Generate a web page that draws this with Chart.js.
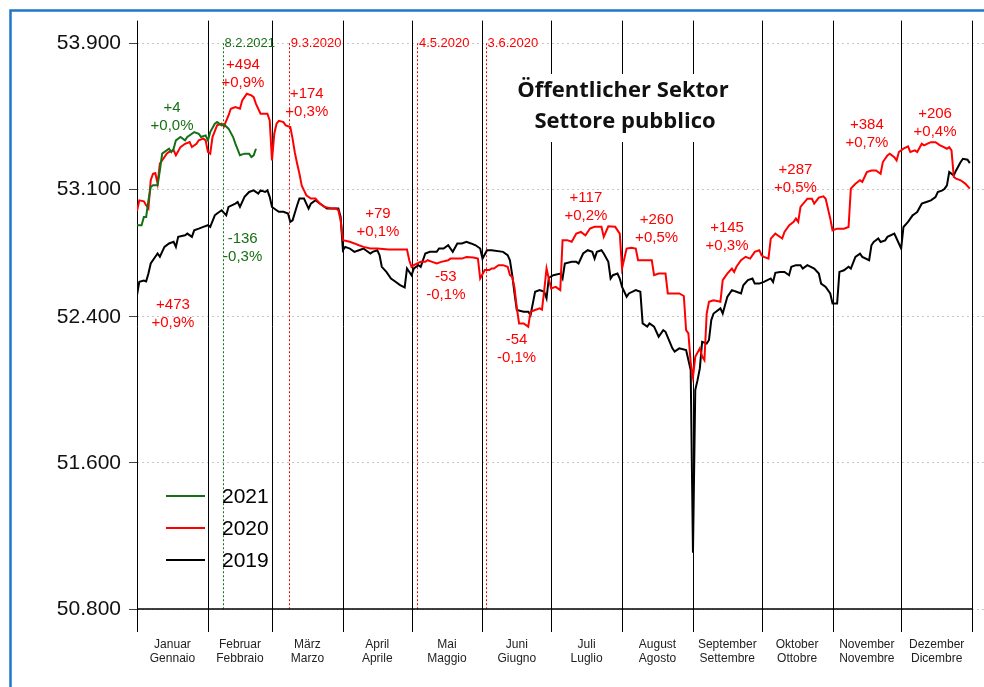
<!DOCTYPE html>
<html>
<head>
<meta charset="utf-8">
<title>Öffentlicher Sektor / Settore pubblico</title>
<script src="https://cdn.jsdelivr.net/npm/chart.js@4.4.1/dist/chart.umd.min.js"></script>
<style>
  html, body { margin: 0; padding: 0; background: #fff; }
  #wrap { width: 984px; height: 687px; }
</style>
</head>
<body>
<div id="wrap"><canvas id="myChart" width="984" height="687"></canvas></div>
<script>
// months (day of year where each month starts, 365-day axis)
const monthStart = [0, 31, 59, 90, 120, 151, 181, 212, 243, 273, 304, 334, 365];
const monthsDe = ['Januar', 'Februar', 'März', 'April', 'Mai', 'Juni', 'Juli', 'August', 'September', 'Oktober', 'November', 'Dezember'];
const monthsIt = ['Gennaio', 'Febbraio', 'Marzo', 'Aprile', 'Maggio', 'Giugno', 'Luglio', 'Agosto', 'Settembre', 'Ottobre', 'Novembre', 'Dicembre'];
const yTicks = [50800, 51600, 52400, 53100, 53900];

// 2019
const days2019 = [
  0, 1, 3, 4, 5, 6, 8, 9, 10, 12,
  14, 16, 17, 18, 21, 22, 24, 25, 27, 29,
  31, 32, 34, 35, 37, 39, 40, 43, 44, 45,
  47, 49, 51, 53, 54, 56, 57, 58, 59, 61,
  62, 64, 66, 67, 68, 70, 71, 73, 74, 75,
  76, 78, 79, 81, 83, 86, 88, 89, 90, 91,
  93, 95, 97, 99, 100, 102, 103, 105, 106, 107,
  109, 111, 113, 115, 117, 118, 120, 121, 123, 124,
  126, 128, 131, 132, 134, 136, 138, 140, 142, 144,
  146, 148, 150, 151, 153, 155, 160, 162, 163, 164,
  165, 166, 169, 171, 172, 174, 176, 178, 179, 180,
  182, 185, 186, 187, 190, 192, 193, 195, 197, 199,
  200, 201, 203, 204, 206, 207, 208, 210, 211, 212,
  214, 215, 218, 220, 221, 223, 224, 226, 228, 230,
  231, 234, 235, 237, 240, 241, 242, 243, 244, 245,
  246, 247, 249, 250, 251, 252, 255, 256, 258, 260,
  262, 264, 265, 267, 269, 270, 272, 274, 277, 278,
  279, 281, 283, 285, 286, 288, 290, 291, 293, 296,
  298, 299, 301, 303, 304, 306, 307, 309, 311, 312,
  314, 316, 317, 320, 321, 322, 324, 325, 327, 328,
  331, 332, 334, 335, 337, 339, 340, 341, 343, 345,
  347, 349, 350, 352, 353, 354, 355, 357, 358, 360,
  361, 363, 364
];
const emp2019 = [
  52520, 52593, 52600, 52595, 52638, 52693, 52730, 52748, 52730, 52784,
  52803, 52812, 52784, 52839, 52848, 52857, 52839, 52875, 52884, 52894,
  52903, 52894, 52957, 52967, 52985, 52957, 53003, 53021, 53030, 53003,
  53058, 53085, 53094, 53076, 53094, 53085, 53094, 53058, 53003, 52985,
  52976, 52976, 52967, 52921, 52930, 53012, 53049, 53049, 53021, 52994,
  53021, 53040, 53030, 53012, 52994, 52994, 52994, 52948, 52766, 52784,
  52775, 52757, 52766, 52775, 52766, 52748, 52757, 52766, 52739, 52675,
  52647, 52611, 52593, 52575, 52562, 52666, 52629, 52666, 52684, 52675,
  52748, 52757, 52757, 52775, 52775, 52793, 52757, 52803, 52803, 52812,
  52803, 52793, 52775, 52720, 52766, 52766, 52757, 52739, 52711, 52629,
  52529, 52438, 52429, 52429, 52410, 52538, 52547, 52538, 52502, 52615,
  52629, 52638, 52611, 52693, 52702, 52702, 52693, 52748, 52766, 52757,
  52720, 52757, 52766, 52748, 52702, 52611, 52629, 52638, 52611, 52565,
  52511, 52529, 52547, 52538, 52365, 52347, 52365, 52347, 52292, 52328,
  52319, 52228, 52210, 52228, 52219, 52164, 52109, 51108, 52000, 52054,
  52118, 52264, 52255, 52274, 52383, 52419, 52447, 52419, 52510, 52547,
  52538, 52529, 52574, 52602, 52611, 52583, 52583, 52592, 52611, 52592,
  52642, 52647, 52647, 52629, 52675, 52684, 52684, 52665, 52684, 52665,
  52638, 52583, 52565, 52529, 52474, 52474, 52647, 52656, 52675, 52665,
  52729, 52747, 52729, 52711, 52793, 52811, 52830, 52811, 52820, 52839,
  52857, 52830, 52775, 52893, 52921, 52957, 52966, 52975, 53021, 53030,
  53039, 53057, 53085, 53094, 53103, 53121, 53194, 53176, 53203, 53249,
  53267, 53262, 53243
];

// 2020
const days2020 = [
  0, 1, 3, 4, 5, 6, 7, 8, 9, 10,
  13, 14, 16, 17, 19, 21, 23, 24, 26, 27,
  29, 30, 31, 32, 33, 35, 37, 38, 40, 41,
  43, 45, 46, 48, 50, 51, 52, 54, 57, 58,
  59, 60, 61, 62, 64, 65, 67, 68, 69, 70,
  71, 72, 73, 74, 76, 78, 80, 82, 85, 87,
  88, 89, 90, 93, 95, 97, 99, 102, 105, 110,
  114, 118, 119, 120, 121, 124, 126, 127, 129, 131,
  133, 136, 137, 140, 142, 144, 147, 149, 150, 152,
  154, 155, 156, 158, 160, 162, 163, 164, 165, 166,
  167, 169, 171, 172, 174, 176, 177, 178, 179, 180,
  181, 183, 185, 186, 188, 190, 192, 194, 196, 198,
  200, 203, 204, 206, 209, 211, 212, 214, 216, 218,
  219, 222, 225, 226, 228, 231, 232, 234, 237, 239,
  240, 241, 242, 243, 244, 246, 247, 248, 249, 250,
  252, 255, 256, 258, 260, 261, 262, 264, 266, 268,
  270, 272, 273, 274, 276, 277, 279, 280, 282, 283,
  285, 287, 288, 289, 290, 293, 295, 296, 298, 300,
  301, 303, 304, 306, 309, 311, 312, 314, 316, 317,
  319, 321, 323, 325, 326, 328, 329, 331, 332, 333,
  335, 337, 338, 340, 341, 343, 344, 346, 347, 349,
  351, 352, 354, 355, 356, 357, 358, 360, 362, 364
];
const emp2020 = [
  52981, 53039, 53034, 53012, 52995, 53149, 53185, 53189, 53131, 53240,
  53295, 53304, 53313, 53286, 53331, 53349, 53359, 53331, 53349, 53368,
  53377, 53368, 53304, 53295, 53386, 53450, 53459, 53444, 53504, 53541,
  53550, 53541, 53587, 53623, 53614, 53605, 53568, 53514, 53514, 53477,
  53258, 53404, 53459, 53475, 53468, 53450, 53441, 53377, 53300, 53240,
  53185, 53120, 53094, 53067, 53049, 53049, 53021, 53003, 52994, 52994,
  52985, 52930, 52821, 52812, 52803, 52793, 52784, 52775, 52775, 52770,
  52770, 52770, 52711, 52675, 52684, 52702, 52702, 52711, 52702, 52693,
  52702, 52711, 52720, 52720, 52720, 52729, 52726, 52720, 52611, 52657,
  52657, 52666, 52666, 52684, 52684, 52675, 52629, 52620, 52560, 52450,
  52365, 52365, 52347, 52429, 52438, 52447, 52440, 52547, 52666, 52610,
  52556, 52565, 52547, 52821, 52821, 52812, 52857, 52866, 52848, 52885,
  52894, 52894, 52839, 52897, 52894, 52857, 52666, 52775, 52779, 52775,
  52711, 52711, 52711, 52629, 52638, 52638, 52529, 52529, 52529, 52515,
  52328, 52310, 52150, 52070, 52182, 52228, 52185, 52164, 52419, 52483,
  52492, 52483, 52602, 52638, 52665, 52647, 52675, 52711, 52730, 52720,
  52757, 52766, 52738, 52729, 52720, 52829, 52857, 52848, 52830, 52866,
  52902, 52921, 52939, 52921, 53003, 53048, 53048, 53021, 53054, 53061,
  53048, 52939, 52875, 52884, 52884, 52893, 53103, 53130, 53149, 53140,
  53194, 53203, 53203, 53185, 53249, 53285, 53295, 53276, 53258, 53304,
  53322, 53335, 53304, 53313, 53304, 53349, 53340, 53353, 53358, 53358,
  53340, 53335, 53322, 53331, 53313, 53167, 53158, 53149, 53131, 53103
];

// 2021 (until end of February)
const days2021 = [0, 2, 3, 4, 5, 6, 7, 9, 10, 11, 14, 15, 16, 17, 19, 21, 22, 24, 25, 27,
  28, 30, 31, 32, 34, 35, 37, 38, 40, 42, 43, 45, 47, 49, 50, 51, 52];
const emp2021 = [52903, 52903, 52948, 52948, 53039, 53112, 53122, 53122, 53204, 53295,
  53322, 53304, 53322, 53368, 53386, 53368, 53386, 53404, 53413, 53404,
  53386, 53395, 53368, 53413, 53459, 53468, 53450, 53455, 53432, 53386,
  53350, 53286, 53295, 53295, 53276, 53286, 53322];

// dotted date markers
const markerDays = [38, 67, 123, 153];
const markerLabels = ['8.2.2021', '9.3.2020', '4.5.2020', '3.6.2020'];
const markerYears = ['2021', '2020', '2020', '2020'];

// change notes (anchor = day / employees, two text lines)
const noteDays = [15.3, 46.3, 74.2, 46.2, 15.7, 105.3, 135, 165.9, 196.2, 227.1, 257.9, 287.8, 319, 348.8];
const noteValues = [53499, 53732, 53575, 52779, 52418, 52917, 52571, 52226, 53005, 52881, 52839, 53156, 53401, 53466];
const noteAbs = ['+4', '+494', '+174', '-136', '+473', '+79', '-53', '-54', '+117', '+260', '+145', '+287', '+384', '+206'];
const notePct = ['+0,0%', '+0,9%', '+0,3%', '-0,3%', '+0,9%', '+0,1%', '-0,1%', '-0,1%', '+0,2%', '+0,5%', '+0,3%', '+0,5%', '+0,7%', '+0,4%'];
const noteYears = ['2021', '2020', '2020', '2021', '2020', '2020', '2020', '2020', '2020', '2020', '2020', '2020', '2020', '2020'];

const colors = { '2021': '#157015', '2020': '#ff0000', '2019': '#000000' };

function toPoints(days, vals) {
  return days.map(function (d, i) { return { x: d, y: vals[i] }; });
}

function fmtThousands(v) {
  return Math.floor(v / 1000) + '.' + String(v % 1000).padStart(3, '0');
}

var monthCenters = [];
for (var i = 0; i < 12; i++) {
  monthCenters.push((monthStart[i] + monthStart[i + 1]) / 2);
}

Chart.defaults.font.family = '"Liberation Sans", Arial, sans-serif';

var FONT = '"Liberation Sans", Arial, sans-serif';
// white area behind the title text (month lines are hidden there)
var titleBox = { left: 505, right: 745, top: 74, bottom: 142 };

// background, blue frame, month lines, date markers, axis line
var backPlugin = {
  id: 'back',
  beforeDraw: function (chart) {
    var ctx = chart.ctx;
    ctx.save();
    ctx.fillStyle = '#fff';
    ctx.fillRect(0, 0, chart.width, chart.height);
    ctx.strokeStyle = '#1f77c9';
    ctx.lineWidth = 2.5;
    ctx.strokeRect(10.5, 10.5, chart.width + 20, chart.height + 20);
    ctx.restore();
  },
  beforeDatasetsDraw: function (chart) {
    var ctx = chart.ctx;
    var xs = chart.scales.x, ys = chart.scales.y, area = chart.chartArea;
    ctx.save();
    ctx.strokeStyle = '#000';
    ctx.lineWidth = 1;
    monthStart.forEach(function (d) {
      var px = Math.round(xs.getPixelForValue(d)) + 0.5;
      ctx.beginPath();
      if (px > titleBox.left && px < titleBox.right) {
        ctx.moveTo(px, area.top);
        ctx.lineTo(px, titleBox.top);
        ctx.moveTo(px, titleBox.bottom);
      } else {
        ctx.moveTo(px, area.top);
      }
      ctx.lineTo(px, area.bottom + 23);
      ctx.stroke();
    });

    // date markers
    var yTop = ys.getPixelForValue(53900);
    ctx.lineWidth = 1;
    ctx.setLineDash([2, 2]);
    markerDays.forEach(function (d, i) {
      var px = Math.round(xs.getPixelForValue(d)) - 0.5;
      ctx.strokeStyle = colors[markerYears[i]];
      ctx.beginPath();
      ctx.moveTo(px, yTop);
      ctx.lineTo(px, area.bottom);
      ctx.stroke();
    });
    ctx.setLineDash([]);
    ctx.font = '13px ' + FONT;
    ctx.textBaseline = 'middle';
    ctx.textAlign = 'left';
    markerDays.forEach(function (d, i) {
      var px = xs.getPixelForValue(d);
      ctx.fillStyle = colors[markerYears[i]];
      ctx.fillText(markerLabels[i], px + 0.5, yTop + 0.5);
    });

    // x axis line
    ctx.strokeStyle = '#000';
    ctx.lineWidth = 1.5;
    ctx.beginPath();
    ctx.moveTo(xs.getPixelForValue(0), Math.round(area.bottom));
    ctx.lineTo(xs.getPixelForValue(365), Math.round(area.bottom));
    ctx.stroke();
    ctx.restore();
  },
  afterDatasetsDraw: function (chart) {
    var ctx = chart.ctx;
    var xs = chart.scales.x, ys = chart.scales.y;
    ctx.save();

    // notes
    ctx.font = '15px ' + FONT;
    ctx.textAlign = 'center';
    ctx.textBaseline = 'middle';
    noteDays.forEach(function (d, i) {
      var px = xs.getPixelForValue(d);
      var py = ys.getPixelForValue(noteValues[i]);
      ctx.fillStyle = colors[noteYears[i]];
      ctx.fillText(noteAbs[i], px, py - 9);
      ctx.fillText(notePct[i], px, py + 9);
    });

    // legend
    ctx.font = '21px ' + FONT;
    ctx.textAlign = 'left';
    chart.data.datasets.forEach(function (ds, i) {
      var ly = 496 + i * 32;
      ctx.strokeStyle = ds.borderColor;
      ctx.lineWidth = 2;
      ctx.beginPath();
      ctx.moveTo(166, ly);
      ctx.lineTo(205, ly);
      ctx.stroke();
      ctx.fillStyle = '#000';
      ctx.fillText(ds.label, 222, ly + 1);
    });

    // title
    ctx.font = 'bold 22px "Open Sans", sans-serif';
    ctx.textAlign = 'center';
    ctx.textBaseline = 'alphabetic';
    ctx.fillStyle = '#111';
    ctx.fillText('Öffentlicher Sektor', 623, 97);
    ctx.fillText('Settore pubblico', 625, 128);
    ctx.restore();
  }
};

new Chart(document.getElementById('myChart'), {
  type: 'line',
  data: {
    datasets: [
      { label: '2021', data: toPoints(days2021, emp2021), borderColor: colors['2021'], borderWidth: 2, pointRadius: 0, fill: false },
      { label: '2020', data: toPoints(days2020, emp2020), borderColor: colors['2020'], borderWidth: 2, pointRadius: 0, fill: false },
      { label: '2019', data: toPoints(days2019, emp2019), borderColor: colors['2019'], borderWidth: 2, pointRadius: 0, fill: false }
    ]
  },
  options: {
    responsive: false,
    animation: false,
    layout: { padding: { top: 20, left: 0, right: 0, bottom: 0 } },
    plugins: {
      legend: { display: false },
      tooltip: { enabled: false },
      title: { display: false }
    },
    scales: {
      x: {
        type: 'linear',
        min: 0,
        max: 370.2,
        grid: { display: false, drawTicks: false },
        border: { display: false },
        ticks: {
          autoSkip: false,
          maxRotation: 0,
          minRotation: 0,
          padding: 28,
          color: '#222',
          font: { size: 12 },
          callback: function (value, index) { return [monthsDe[index], monthsIt[index]]; }
        },
        afterBuildTicks: function (scale) {
          scale.ticks = monthCenters.map(function (v) { return { value: v }; });
        },
        afterFit: function (scale) {
          scale.height = 78;
          scale.paddingLeft = 0;
          scale.paddingRight = 0;
        }
      },
      y: {
        min: 50800,
        max: 54024,
        grid: {
          color: '#c8c8c8',
          lineWidth: 1,
          drawTicks: true,
          tickLength: 8,
          tickColor: '#444',
          tickBorderDash: [0, 0]
        },
        border: { display: false, dash: [2, 3] },
        ticks: {
          padding: 8,
          color: '#111',
          font: { size: 21 },
          callback: function (value) { return fmtThousands(value); }
        },
        afterBuildTicks: function (scale) {
          scale.ticks = yTicks.map(function (v) { return { value: v }; });
        },
        afterFit: function (scale) { scale.width = 137; }
      }
    }
  },
  plugins: [backPlugin]
});
</script>
</body>
</html>
